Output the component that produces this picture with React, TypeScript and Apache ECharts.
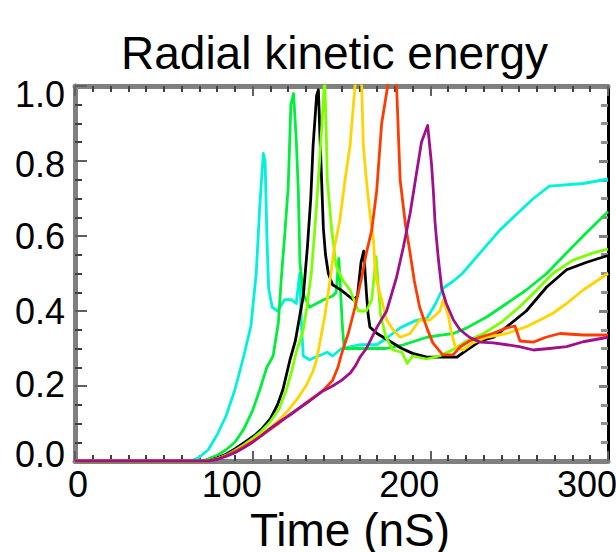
import React, { useEffect, useRef } from "react";
import * as echarts from "echarts";

const titleText = "Radial kinetic energy";
const xName = "Time (nS)";
const xTicks = [0, 100, 200, 300];
const yTicks = [0, 0.2, 0.4, 0.6, 0.8, 1.0];

const cyan: [number, number][] = [
  [0, 0], [65, 0], [70, 0.01], [75, 0.03], [80, 0.07], [85, 0.12], [90, 0.19], [95, 0.28], [99, 0.36],
  [102, 0.5], [104, 0.68], [106, 0.82], [107, 0.8], [108, 0.6], [109, 0.46], [111, 0.41], [114, 0.4],
  [118, 0.43], [122, 0.43], [124.5, 0.42], [126.5, 0.5], [127.5, 0.36], [128.5, 0.28], [132, 0.27],
  [137, 0.28], [142, 0.29], [145, 0.28], [150, 0.3], [160, 0.31], [170, 0.31], [176, 0.33], [183, 0.355],
  [192, 0.375], [198, 0.38], [203, 0.42], [207, 0.46], [213, 0.48], [218, 0.5], [228, 0.555], [239, 0.615],
  [249, 0.66], [258, 0.7], [267, 0.733], [286, 0.74], [300, 0.752],
];

const green: [number, number][] = [
  [0, 0], [72, 0], [80, 0.015], [85, 0.03], [90, 0.05], [95, 0.085], [100, 0.135], [104, 0.19], [108, 0.25],
  [111.5, 0.28], [114.5, 0.37], [116, 0.48], [118, 0.6], [120, 0.73], [121.5, 0.95], [123, 0.98],
  [124.5, 0.86], [125.7, 0.72], [126.6, 0.53], [128.5, 0.445], [132, 0.41], [136, 0.42], [140, 0.43],
  [145, 0.44], [147, 0.45], [148.5, 0.54], [149.5, 0.45], [150.5, 0.36], [151.5, 0.3], [160, 0.3],
  [175, 0.3], [185, 0.31], [198, 0.33], [205, 0.335], [213, 0.34], [220.5, 0.355], [231.7, 0.384],
  [243, 0.42], [254, 0.456], [265.5, 0.5], [276.7, 0.555], [286, 0.6], [300, 0.665],
];

const black: [number, number][] = [
  [0, 0], [75, 0], [80, 0.008], [85, 0.018], [90, 0.032], [95, 0.048], [101, 0.068], [105, 0.085],
  [110, 0.113], [114, 0.15], [117, 0.19], [121, 0.27], [124, 0.32], [128.5, 0.44], [130.8, 0.57],
  [132.7, 0.7], [134, 0.84], [136, 0.975], [137, 0.99], [138, 0.85], [138.8, 0.75], [139.8, 0.62],
  [141, 0.55], [142.6, 0.5], [145, 0.47], [150, 0.455], [156.6, 0.43], [159, 0.44], [161, 0.53],
  [162.5, 0.56], [164, 0.45], [165, 0.39], [166, 0.357], [170, 0.34], [177, 0.32], [184, 0.3],
  [190, 0.287], [198, 0.277], [207, 0.277], [215, 0.277], [220.5, 0.296], [228, 0.32], [235.7, 0.33],
  [243, 0.358], [254, 0.4], [265.5, 0.464], [276.7, 0.51], [288, 0.53], [300, 0.548],
];

const chartreuse: [number, number][] = [
  [0, 0], [75, 0], [80, 0.006], [85, 0.015], [90, 0.028], [95, 0.043], [100, 0.06], [105, 0.08],
  [110, 0.105], [115, 0.14], [119, 0.19], [122, 0.24], [124.5, 0.29], [128.5, 0.35], [130.5, 0.41],
  [133, 0.5], [135, 0.62], [137, 0.75], [139, 0.9], [140.5, 1.02], [141.3, 0.9], [142, 0.75],
  [144.5, 0.616], [147, 0.52], [151, 0.48], [154.8, 0.456], [159.5, 0.4], [164, 0.4], [167, 0.43],
  [169.5, 0.545], [171, 0.45], [172, 0.39], [175, 0.33], [179, 0.296], [184, 0.29], [187, 0.26],
  [190, 0.28], [198, 0.272], [205, 0.28], [212, 0.295], [220.5, 0.32], [230, 0.34], [240, 0.37],
  [250, 0.41], [258, 0.447], [269, 0.5], [280, 0.535], [291.7, 0.555], [300, 0.565],
];

const yellow: [number, number][] = [
  [0, 0], [75, 0], [80, 0.006], [85, 0.014], [90, 0.026], [95, 0.04], [100, 0.055], [105, 0.072],
  [110, 0.09], [115, 0.11], [120, 0.135], [125, 0.165], [130, 0.2], [134, 0.24], [136, 0.27],
  [138, 0.32], [140.7, 0.39], [143.5, 0.48], [146, 0.57], [149, 0.64], [152, 0.75], [154.8, 0.84],
  [157.6, 1.0], [159.5, 1.05], [161.4, 1.0], [162.3, 0.84], [164, 0.75], [166, 0.66], [168, 0.59],
  [169, 0.5], [170.8, 0.46], [172.6, 0.43], [175.4, 0.376], [179, 0.35], [183, 0.33], [188.6, 0.34],
  [194, 0.376], [199.8, 0.376], [205.4, 0.4], [207.3, 0.43], [210, 0.39], [212, 0.34], [214, 0.305],
  [218.5, 0.296], [224, 0.315], [231.7, 0.33], [243, 0.34], [254, 0.358], [261.7, 0.376], [269, 0.394],
  [276.7, 0.42], [286, 0.456], [300, 0.5],
];

const red: [number, number][] = [
  [0, 0], [75, 0], [80, 0.006], [85, 0.014], [90, 0.025], [95, 0.038], [100, 0.052], [105, 0.068],
  [110, 0.085], [115, 0.102], [120, 0.12], [125, 0.137], [130, 0.155], [135, 0.172], [140, 0.19],
  [145, 0.215], [148, 0.25], [150, 0.285], [153.8, 0.34], [157.6, 0.41], [161.4, 0.49], [164, 0.555],
  [167, 0.615], [169.8, 0.72], [172.6, 0.9], [176, 1.0], [178.5, 1.06], [181, 1.0], [183, 0.75],
  [186, 0.63], [188.6, 0.555], [191, 0.48], [194, 0.41], [197.9, 0.357], [201.4, 0.315], [207, 0.283],
  [212.8, 0.283], [216.7, 0.304], [222, 0.32], [228, 0.33], [235, 0.34], [243, 0.355], [247.6, 0.36],
  [250.5, 0.32], [258, 0.317], [265, 0.33], [273, 0.34], [286, 0.336], [300, 0.336],
];

const purple: [number, number][] = [
  [0, 0], [75, 0], [80, 0.004], [85, 0.012], [90, 0.022], [95, 0.035], [100, 0.05], [105, 0.068],
  [110, 0.087], [115, 0.104], [120, 0.12], [126, 0.14], [132, 0.16], [139, 0.185], [145, 0.2],
  [150, 0.215], [155, 0.235], [158, 0.255], [160.4, 0.277], [164, 0.3], [170, 0.357], [175.4, 0.4],
  [181, 0.49], [184.8, 0.57], [188.6, 0.66], [192.3, 0.77], [195, 0.85], [198.5, 0.895], [200.7, 0.79],
  [201.7, 0.72], [202.6, 0.64], [203.5, 0.59], [204.5, 0.54], [206.4, 0.46], [209, 0.42], [213, 0.376],
  [216.7, 0.35], [222, 0.33], [228, 0.317], [235.4, 0.315], [243, 0.31], [250, 0.305], [258, 0.296],
  [267, 0.3], [276.7, 0.305], [286, 0.318], [300, 0.33],
];

const seriesList = [
  { name: "cyan", data: cyan, color: "#00F2DA" },
  { name: "green", data: green, color: "#00EE3C" },
  { name: "black", data: black, color: "#000000" },
  { name: "chartreuse", data: chartreuse, color: "#7CFF00" },
  { name: "yellow", data: yellow, color: "#FFD400" },
  { name: "red", data: red, color: "#FF3C00" },
  { name: "purple", data: purple, color: "#A0108A" },
];

const FONT = "'Liberation Sans', Arial, Helvetica, sans-serif";

export default function App() {
  const ref = useRef<HTMLDivElement>(null);
  useEffect(() => {
    document.body.style.margin = "0";
    const chart = echarts.init(ref.current!, null, { renderer: "svg" });
    const xMin = xTicks[0];
    const xMax = xTicks[xTicks.length - 1];
    const xInt = xTicks[1] - xTicks[0];
    const yMin = yTicks[0];
    const yMax = yTicks[yTicks.length - 1];
    const yInt = yTicks[1] - yTicks[0];
    const labelBase = { fontSize: 36, fontFamily: FONT, color: "#000" };
    const yPad: Record<string, [string, number[]]> = {
      "1.0": ["a", [17, 0, 0, 0]],
      "0.8": ["b", [7, 0, 0, 0]],
      "0.6": ["c", [0, 0, 0, 0]],
      "0.4": ["d", [0, 0, 0, 0]],
      "0.2": ["e", [0, 0, 3, 0]],
      "0.0": ["f", [0, 0, 13, 0]],
    };
    const yRich: Record<string, any> = {};
    Object.values(yPad).forEach(([k, p]) => {
      yRich[k] = { ...labelBase, padding: p };
    });
    const xAxisCommon = {
      type: "value",
      min: xMin,
      max: xMax,
      interval: xInt,
      splitLine: { show: false },
      axisTick: { show: true, inside: true, length: 10, lineStyle: { color: "#606060", width: 2 } },
      minorTick: { show: true, splitNumber: 10, length: 6, lineStyle: { color: "#404040", width: 2 } },
    };
    const yAxisCommon = {
      type: "value",
      min: yMin,
      max: yMax,
      interval: yInt,
      splitLine: { show: false },
      axisTick: { show: true, inside: true, length: 12, lineStyle: { color: "#606060", width: 2 } },
      minorTick: { show: true, splitNumber: 4, length: 7, lineStyle: { color: "#404040", width: 2 } },
    };
    chart.setOption({
      animation: false,
      backgroundColor: "#ffffff",
      title: {
        text: titleText,
        left: 121,
        top: 30,
        padding: 0,
        textStyle: { fontSize: 46, fontWeight: "normal", fontFamily: FONT, color: "#000" },
      },
      grid: { left: 75, right: 8, top: 86, bottom: 91, containLabel: false, outerBoundsMode: "none" },
      xAxis: [
        {
          ...xAxisCommon,
          position: "bottom",
          axisLine: { show: true, onZero: false, lineStyle: { color: "#808080", width: 5 } },
          axisLabel: {
            show: true,
            margin: 5,
            formatter: (v: number) => (v === 0 ? `{z|${v}}` : `{n|${v}}`),
            rich: {
              z: { ...labelBase, padding: [0, 0, 0, 6] },
              n: { ...labelBase, padding: [0, 42, 0, 0] },
            },
          },
          name: xName,
          nameLocation: "middle",
          nameGap: 34,
          nameTextStyle: { fontSize: 46, fontFamily: FONT, color: "#000", padding: [0, 0, 0, 17] },
        },
        {
          ...xAxisCommon,
          position: "top",
          axisLine: { show: true, onZero: false, lineStyle: { color: "#808080", width: 5 } },
          axisLabel: { show: false },
        },
      ],
      yAxis: [
        {
          ...yAxisCommon,
          position: "left",
          axisLine: { show: true, onZero: false, lineStyle: { color: "#808080", width: 5 } },
          axisLabel: {
            show: true,
            margin: 10,
            formatter: (v: number) => {
              const s = v.toFixed(1);
              const k = yPad[s] ? yPad[s][0] : "c";
              return `{${k}|${s}}`;
            },
            rich: yRich,
          },
        },
        {
          ...yAxisCommon,
          position: "right",
          axisLine: { show: true, onZero: false, lineStyle: { color: "#000000", width: 3 } },
          axisTick: { show: true, inside: true, length: 9, lineStyle: { color: "#808080", width: 3 } },
          minorTick: { show: true, splitNumber: 4, length: 7, lineStyle: { color: "#909090", width: 3 } },
          axisLabel: { show: false },
        },
      ],
      series: seriesList.map((s) => ({
        name: s.name,
        type: "line",
        xAxisIndex: 0,
        yAxisIndex: 0,
        data: s.data,
        showSymbol: false,
        symbol: "none",
        clip: true,
        lineStyle: { color: s.color, width: 2.8, join: "round" },
        itemStyle: { color: s.color },
      })),
    });
    return () => chart.dispose();
  }, []);
  return (
    <div
      ref={ref}
      style={{ width: 616, height: 552, position: "absolute", left: 0, top: 0, background: "#fff" }}
    />
  );
}
